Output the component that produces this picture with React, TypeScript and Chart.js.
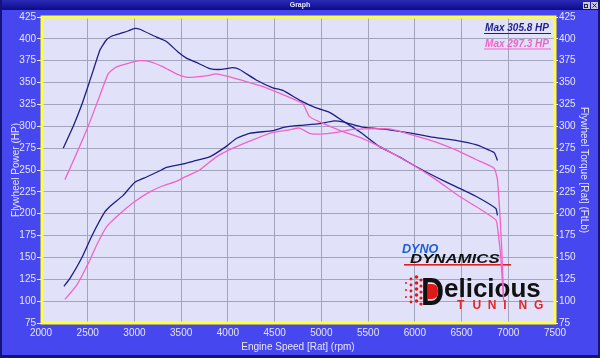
import React, { useEffect, useRef } from "react";
import { Chart, registerables } from "chart.js";

Chart.register(...registerables);

// ---- data ----
const xTicks = [2000, 2500, 3000, 3500, 4000, 4500, 5000, 5500, 6000, 6500, 7000, 7500];
const yTicks = [75, 100, 125, 150, 175, 200, 225, 250, 275, 300, 325, 350, 375, 400, 425];

const run1TorqueRpm = [2238, 2345, 2434, 2488, 2559, 2630, 2701, 2755, 2844, 2932, 3004, 3057, 3236, 3342, 3466, 3556, 3663, 3805, 3930, 4054, 4125, 4303, 4481, 4588, 4766, 4944, 5087, 5247, 5407, 5620, 5834, 6012, 6226, 6439, 6653, 6867, 6884];
const run1Torque = [275, 300, 324, 341, 364, 387, 399, 403, 406, 409, 412, 411, 402, 397, 385, 378, 373, 366, 365, 367, 365, 353, 344, 341, 330, 321, 316, 305, 294, 277, 265, 254, 242, 231, 220, 206, 198];

const run1PowerRpm = [2246, 2310, 2434, 2541, 2683, 2755, 2879, 3004, 3129, 3289, 3342, 3520, 3627, 3805, 3983, 4090, 4232, 4481, 4606, 4766, 4980, 5122, 5229, 5442, 5727, 5976, 6226, 6439, 6653, 6848, 6884];
const run1Power = [117, 126, 149, 174, 202, 210, 221, 236, 242, 250, 253, 257, 260, 265, 277, 286, 292, 295, 299, 301, 303, 306, 305, 299, 296, 292, 287, 284, 279, 270, 261];

const run2TorqueRpm = [2256, 2381, 2505, 2612, 2719, 2808, 2932, 3057, 3164, 3306, 3449, 3573, 3787, 3876, 4000, 4197, 4410, 4659, 4801, 4873, 4980, 5229, 5442, 5656, 5976, 6226, 6475, 6689, 6867, 6884, 6920, 6950];
const run2Torque = [239, 269, 300, 330, 360, 368, 372, 375, 374, 368, 360, 356, 358, 360, 357, 351, 344, 333, 326, 311, 305, 294, 286, 275, 256, 239, 220, 206, 193, 185, 150, 100];

const run2PowerRpm = [2256, 2381, 2505, 2595, 2701, 2844, 3004, 3164, 3306, 3449, 3520, 3698, 3876, 4054, 4232, 4446, 4659, 4766, 4873, 4998, 5158, 5300, 5460, 5727, 5976, 6226, 6439, 6653, 6848, 6884, 6910, 6930, 6950];
const run2Power = [102, 118, 143, 164, 185, 200, 214, 225, 232, 237, 241, 250, 265, 275, 283, 292, 296, 298, 292, 291, 293, 296, 297, 297, 290, 282, 273, 262, 252, 239, 200, 160, 105];

const legendLabels = ["Max 305.8 HP", "Max 297.3 HP"];

// ---- styles ----
const NAVY_LINE = "#1e1e88";
const PINK_LINE = "#f064c8";
const BG_BLUE = "#4747ef";
const PLOT_BG = "#e1e1f9";
const GRID = "#a4a4bc";
const TICK_TXT = "#e6e6ff";
const FONT = "'Liberation Sans', Arial, sans-serif";

const pts = (xs: number[], ys: number[]) => xs.map((x, i) => ({ x, y: ys[i] }));

const framePlugin = {
  id: "frame",
  beforeDraw(chart: any) {
    const { ctx, width, height, chartArea: a } = chart;
    ctx.save();
    ctx.fillStyle = BG_BLUE;
    ctx.fillRect(0, 0, width, height);
    // title bar
    const g = ctx.createLinearGradient(0, 0, 0, 10);
    g.addColorStop(0, "#2a2ab8");
    g.addColorStop(1, "#0c0c88");
    ctx.fillStyle = g;
    ctx.fillRect(0, 0, width, 10);
    ctx.fillStyle = "#e8e8ff";
    ctx.font = `bold 7px ${FONT}`;
    ctx.textAlign = "center";
    ctx.textBaseline = "middle";
    ctx.fillText("Graph", width / 2, 5.5);
    // window buttons
    ctx.fillStyle = "#c8c8d8";
    ctx.fillRect(583, 2, 7, 7);
    ctx.fillRect(591, 2, 7, 7);
    ctx.strokeStyle = "#202040";
    ctx.lineWidth = 1;
    ctx.beginPath();
    ctx.moveTo(592.5, 3.5); ctx.lineTo(596.5, 7.5);
    ctx.moveTo(596.5, 3.5); ctx.lineTo(592.5, 7.5);
    ctx.stroke();
    ctx.strokeRect(584.5, 4.5, 3, 3);
    // window borders
    ctx.fillStyle = "#141478";
    ctx.fillRect(0, 0, 2, height);
    ctx.fillRect(width - 2, 0, 2, height);
    ctx.fillRect(0, height - 3, width, 3);
    // plot background
    ctx.fillStyle = PLOT_BG;
    ctx.fillRect(a.left, a.top, a.right - a.left, a.bottom - a.top);
    ctx.restore();
  },
  beforeDatasetsDraw(chart: any) {
    const { ctx } = chart;
    ctx.save();
    ctx.textAlign = "left";
    ctx.textBaseline = "alphabetic";
    // DYNO
    ctx.fillStyle = "#1d5fd6";
    ctx.font = `italic bold 12px ${FONT}`;
    ctx.save();
    ctx.translate(402, 253);
    ctx.scale(1.05, 1);
    ctx.fillText("DYNO", 0, 0);
    ctx.restore();
    // DYNAMICS
    ctx.fillStyle = "#111111";
    ctx.save();
    ctx.translate(410, 263);
    ctx.scale(1.4, 1);
    ctx.font = `italic bold 12px ${FONT}`;
    ctx.fillText("DYNAMICS", 0, 0);
    ctx.restore();
    ctx.fillStyle = "#e02020";
    ctx.fillRect(404, 264, 107, 1.6);
    // red dots
    ctx.fillStyle = "#e01818";
    const cols = [
      { x: 406, r: 1.0, rows: [283, 290, 297] },
      { x: 411, r: 1.4, rows: [279, 285, 291, 297, 302] },
      { x: 416.5, r: 1.8, rows: [277, 283, 289, 295, 301] },
      { x: 421, r: 1.6, rows: [280, 286, 292, 298, 304] },
    ];
    for (const c of cols) {
      for (const y of c.rows) {
        ctx.beginPath();
        ctx.arc(c.x, y, c.r, 0, Math.PI * 2);
        ctx.fill();
      }
    }
    // big D
    ctx.fillStyle = "#111111";
    ctx.save();
    ctx.translate(421, 305);
    ctx.scale(0.82, 1);
    ctx.font = `bold 39px ${FONT}`;
    ctx.fillText("D", 0, 0);
    ctx.restore();
    ctx.fillStyle = "#e01818";
    ctx.beginPath();
    ctx.moveTo(428, 284);
    ctx.lineTo(432, 284);
    ctx.quadraticCurveTo(438, 284, 438, 291);
    ctx.quadraticCurveTo(438, 299, 432, 299);
    ctx.lineTo(428, 299);
    ctx.closePath();
    ctx.fill();
    // elicious
    ctx.fillStyle = "#111111";
    ctx.font = `bold 26px ${FONT}`;
    ctx.fillText("elicious", 444, 297);
    // TUNING
    ctx.fillStyle = "#e02828";
    ctx.font = `bold 12px ${FONT}`;
    "TUNING".split("").forEach((ch, i) => ctx.fillText(ch, 457 + i * 15.4, 309));
    ctx.restore();
  },
  afterDraw(chart: any) {
    const { ctx, chartArea: a } = chart;
    ctx.save();
    ctx.strokeStyle = "#ffff3a";
    ctx.lineWidth = 3;
    ctx.strokeRect(a.left + 1, a.top, a.right - a.left - 1, a.bottom - a.top);
    // legend
    ctx.font = `italic bold 10px ${FONT}`;
    ctx.textAlign = "right";
    ctx.textBaseline = "alphabetic";
    const colors = [NAVY_LINE, PINK_LINE];
    legendLabels.forEach((t, i) => {
      const y = 31 + i * 15.5;
      ctx.fillStyle = colors[i];
      ctx.fillText(t, 549, y);
      const w = ctx.measureText(t).width;
      ctx.fillRect(549 - w - 1, y + 2, w + 3, 1);
    });
    ctx.restore();
  },
};

export default function App() {
  const ref = useRef<HTMLCanvasElement | null>(null);
  useEffect(() => {
    if (!ref.current) return;
    const lineDs = (label: string, xs: number[], ys: number[], color: string) => ({
      label,
      data: pts(xs, ys),
      borderColor: color,
      backgroundColor: color,
      borderWidth: 1.3,
      pointRadius: 0,
      tension: 0.15,
      fill: false,
    });
    const chart = new Chart(ref.current, {
      type: "line",
      data: {
        datasets: [
          lineDs("Torque run 2", run2TorqueRpm, run2Torque, PINK_LINE),
          lineDs("Power run 2", run2PowerRpm, run2Power, PINK_LINE),
          lineDs("Torque run 1", run1TorqueRpm, run1Torque, NAVY_LINE),
          lineDs("Power run 1", run1PowerRpm, run1Power, NAVY_LINE),
        ],
      },
      options: {
        animation: false,
        responsive: false,
        devicePixelRatio: 1,
        layout: { padding: { top: 17, left: 0, right: 0, bottom: 0 } },
        plugins: { legend: { display: false }, tooltip: { enabled: false }, title: { display: false } },
        scales: {
          x: {
            type: "linear",
            min: 2000,
            max: 7500,
            afterBuildTicks: (s: any) => { s.ticks = xTicks.map((v) => ({ value: v })); },
            afterFit: (s: any) => { s.height = 35; },
            grid: { color: GRID, lineWidth: 1, drawTicks: true, tickLength: 3, tickColor: "rgba(0,0,0,0)" },
            border: { display: false },
            ticks: { color: TICK_TXT, font: { family: FONT, size: 10 }, padding: 1, maxRotation: 0, autoSkip: false, callback: (v: any) => String(v) },
            title: { display: true, text: "Engine Speed [Rat] (rpm)", color: TICK_TXT, font: { family: FONT, size: 10 }, padding: { top: 0, bottom: 5 } },
          },
          y: {
            type: "linear",
            position: "left",
            min: 75,
            max: 425,
            afterBuildTicks: (s: any) => { s.ticks = yTicks.map((v) => ({ value: v })); },
            afterFit: (s: any) => { s.width = 41; },
            grid: { color: GRID, lineWidth: 1, drawTicks: true, tickLength: 4, tickColor: TICK_TXT },
            border: { display: false },
            ticks: { color: TICK_TXT, font: { family: FONT, size: 10 }, padding: 1, autoSkip: false, callback: (v: any) => String(v) },
            title: { display: true, text: "Flywheel Power (HP)", color: TICK_TXT, font: { family: FONT, size: 10 }, padding: { top: 10, bottom: 0 } },
          },
          y2: {
            type: "linear",
            position: "right",
            min: 75,
            max: 425,
            afterBuildTicks: (s: any) => { s.ticks = yTicks.map((v) => ({ value: v })); },
            afterFit: (s: any) => { s.width = 45; },
            grid: { drawOnChartArea: false, drawTicks: true, tickLength: 3, tickColor: TICK_TXT },
            border: { display: false },
            ticks: { color: TICK_TXT, font: { family: FONT, size: 10 }, padding: 1, autoSkip: false, callback: (v: any) => String(v) },
            title: { display: true, text: "Flywheel Torque [Rat] (FtLb)", color: TICK_TXT, font: { family: FONT, size: 10 }, padding: { top: 10, bottom: 0 } },
          },
        },
      },
      plugins: [framePlugin],
    } as any);
    return () => chart.destroy();
  }, []);
  return (
    <div style={{ position: "fixed", left: 0, top: 0, width: 600, height: 358 }}>
      <canvas ref={ref} width={600} height={358} style={{ display: "block", width: 600, height: 358 }} />
    </div>
  );
}
